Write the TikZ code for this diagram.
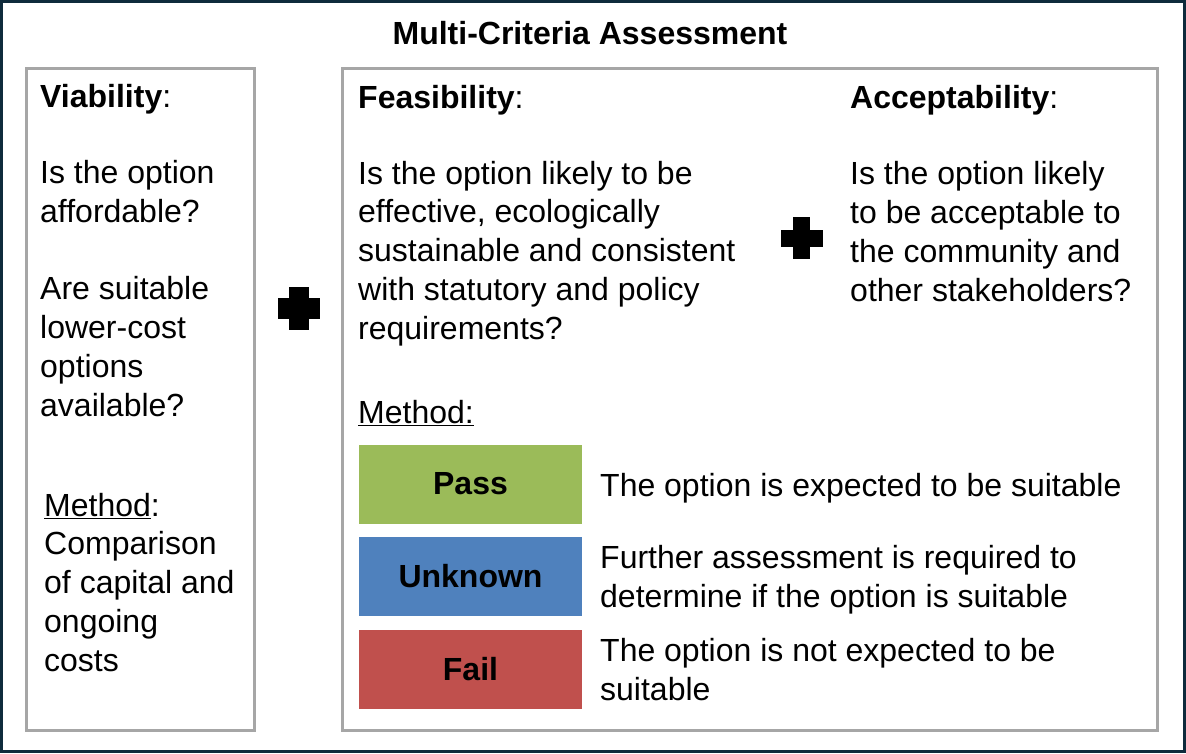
\documentclass[tikz,border=0pt]{standalone}
\usepackage{fontspec}
\setmainfont{Liberation Sans}
\definecolor{navy}{HTML}{0F2B3C}
\definecolor{boxgray}{HTML}{A6A6A6}
\definecolor{passgreen}{HTML}{9BBB59}
\definecolor{unkblue}{HTML}{4F81BD}
\definecolor{failred}{HTML}{C0504D}

\begin{document}
\begin{tikzpicture}[x=1pt, y=-1pt,
        frame/.style={draw=boxgray, line width=3pt, anchor=north west, inner sep=0pt},
        txt/.style={anchor=base west, align=left, inner sep=0pt, font=\fontsize{32}{38.7}\selectfont},
        rating/.style={minimum width=223pt, minimum height=79pt, inner sep=0pt, font=\fontsize{32}{38}\selectfont\bfseries}]
    \useasboundingbox (0,0) rectangle (1186,753);
    \draw[navy, line width=3pt] (1.5,1.5) rectangle (1184.5,751.5);

    \node[txt, anchor=base, font=\fontsize{32}{38}\selectfont\bfseries] (title) at (590,44) {Multi-Criteria Assessment};

    \node[frame, minimum width=228pt, minimum height=662pt] (viab) at (25,67) {};
    \node[frame, minimum width=815pt, minimum height=662pt] (feas) at (341,67) {};

    % left column (anchored at the last line)
    \node[txt] (viabhead) at (40,107) {\textbf{Viability}:};
    \node[txt] (viabq1) at (40,222) {Is the option\\affordable?};
    \node[txt] (viabq2) at (40,416) {Are suitable\\lower-cost\\options\\available?};
    \node[txt] (viabmeth) at (44,671) {\underline{Method}:\\Comparison\\of capital and\\ongoing\\costs};

    % plus signs
    \fill (278,298) rectangle (320,319);
    \fill (289,287) rectangle (309,330);
    \fill (781,230) rectangle (823,247);
    \fill (793,217) rectangle (810,259);

    % feasibility and acceptability
    \node[txt] (feashead) at (358,108) {\textbf{Feasibility}:};
    \node[txt] (feasq) at (358,339) {Is the option likely to be\\effective, ecologically\\sustainable and consistent\\with statutory and policy\\requirements?};
    \node[txt] (acchead) at (850,108) {\textbf{Acceptability}:};
    \node[txt] (accq) at (850,301) {Is the option likely\\to be acceptable to\\the community and\\other stakeholders?};
    \node[txt] (feasmeth) at (358,423) {\underline{Method:}};

    % ratings
    \node[rating, fill=passgreen] (pass) at (470.5,484) {Pass};
    \node[rating, fill=unkblue] (unknown) at (470.5,576) {Unknown};
    \node[rating, fill=failred] (fail) at (470.5,669) {Fail};
    \node[txt] (passtxt) at (600,496) {The option is expected to be suitable};
    \node[txt] (unktxt) at (600,607) {Further assessment is required to\\determine if the option is suitable};
    \node[txt] (failtxt) at (600,700) {The option is not expected to be\\suitable};
\end{tikzpicture}
\end{document}
